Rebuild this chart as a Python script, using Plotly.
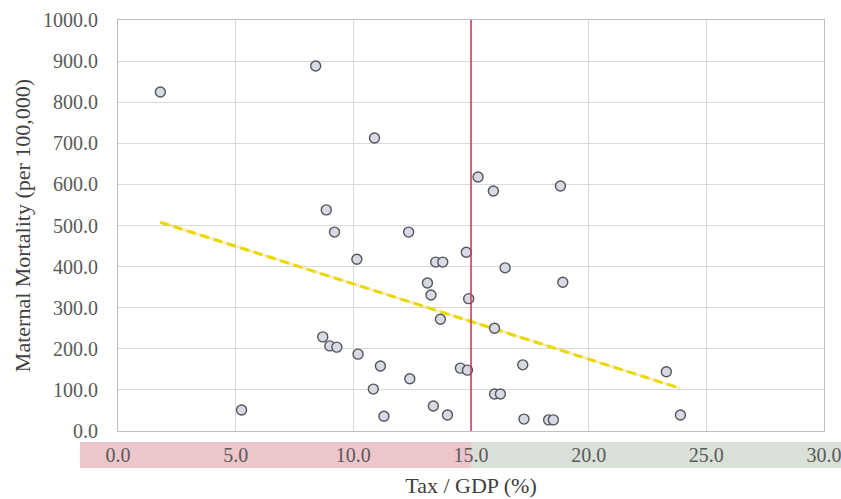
import numpy as np
import plotly.graph_objects as go

tax_gdp = [1.8, 8.4, 10.9, 8.85, 9.2, 12.35, 10.15, 15.3, 15.95, 18.8, 14.8, 16.45,
           13.5, 13.8, 13.15, 13.3, 14.9, 13.7, 18.9, 16.0, 8.7, 9.0, 9.3, 10.2,
           11.15, 12.4, 10.85, 14.55, 14.85, 17.2, 23.3, 16.0, 16.25, 5.25, 11.3,
           13.4, 14.0, 17.25, 18.3, 18.5, 23.9]
maternal_mortality = [825, 888, 713, 538, 484, 484, 418, 618, 584, 596, 435, 397,
                      411, 411, 360, 331, 322, 272, 362, 250, 229, 207, 204, 187,
                      158, 127, 102, 153, 148, 161, 144, 90, 90, 51, 36,
                      61, 39, 29, 27, 27, 39]
threshold = 15.0
x_range = [0, 30]
x_ticks = [0, 5, 10, 15, 20, 25, 30]
y_ticks = [0, 100, 200, 300, 400, 500, 600, 700, 800, 900, 1000]

xs = np.array(tax_gdp)
ys = np.array(maternal_mortality)
slope, intercept = np.polyfit(xs, ys, 1)
trend_x = [xs.min(), xs.max()]
trend_y = [slope * v + intercept for v in trend_x]

fig = go.Figure()
fig.add_trace(go.Scatter(
    x=trend_x, y=trend_y, mode="lines",
    line=dict(color="rgba(240,200,80,0.35)", width=3),
    hoverinfo="skip", showlegend=False))
fig.add_trace(go.Scatter(
    x=trend_x, y=trend_y, mode="lines",
    line=dict(color="#E8DA00", width=3, dash="9px,5px"),
    hoverinfo="skip", showlegend=False))
fig.add_trace(go.Scatter(
    x=tax_gdp, y=maternal_mortality, mode="markers",
    marker=dict(size=10, color="#D5DAE6", line=dict(color="#555555", width=1.4)),
    showlegend=False))

# threshold line
fig.add_shape(type="line", xref="x", yref="y", x0=threshold, x1=threshold,
              y0=0, y1=1000, line=dict(color="#C8375A", width=1.5))
# coloured bands behind x tick labels (paper coords so they extend past the plot)
span = x_range[1] - x_range[0]
thr_paper = (threshold - x_range[0]) / span
fig.add_shape(type="rect", xref="paper", yref="paper", x0=-0.054, x1=thr_paper,
              y0=-0.090, y1=-0.027, fillcolor="#EDC6CB", line=dict(width=0), layer="below")
fig.add_shape(type="rect", xref="paper", yref="paper", x0=thr_paper, x1=1.06,
              y0=-0.090, y1=-0.027, fillcolor="#D9E0D7", line=dict(width=0), layer="below")

font_family = "Liberation Serif"
fig.update_layout(
    width=860, height=499,
    margin=dict(l=118, r=36, t=20, b=68),
    paper_bgcolor="white", plot_bgcolor="white",
    font=dict(family=font_family, color="#595959", size=20),
    xaxis=dict(
        range=x_range, tickvals=x_ticks, ticktext=[f"{v:.1f}" for v in x_ticks],
        showgrid=True, gridcolor="#D9D9D9", gridwidth=1,
        showline=True, linecolor="#BFBFBF", mirror=True, zeroline=False,
        ticks="", ticklabelstandoff=6, automargin=False,
        title=dict(text="Tax / GDP (%)", font=dict(size=22, color="#404040"), standoff=12),
    ),
    yaxis=dict(
        range=[0, 1000], tickvals=y_ticks, ticktext=[f"{v:.1f}" for v in y_ticks],
        showgrid=True, gridcolor="#D9D9D9", gridwidth=1,
        showline=True, linecolor="#BFBFBF", mirror=True, zeroline=False,
        ticks="", ticklabelstandoff=15, automargin=False,
        title=dict(text="Maternal Mortality (per 100,000)", font=dict(size=22, color="#404040"), standoff=6),
    ),
)
fig.write_html("out.html", config={"displayModeBar": False},
               post_script="document.body.style.margin='0';document.body.style.overflow='hidden';")
